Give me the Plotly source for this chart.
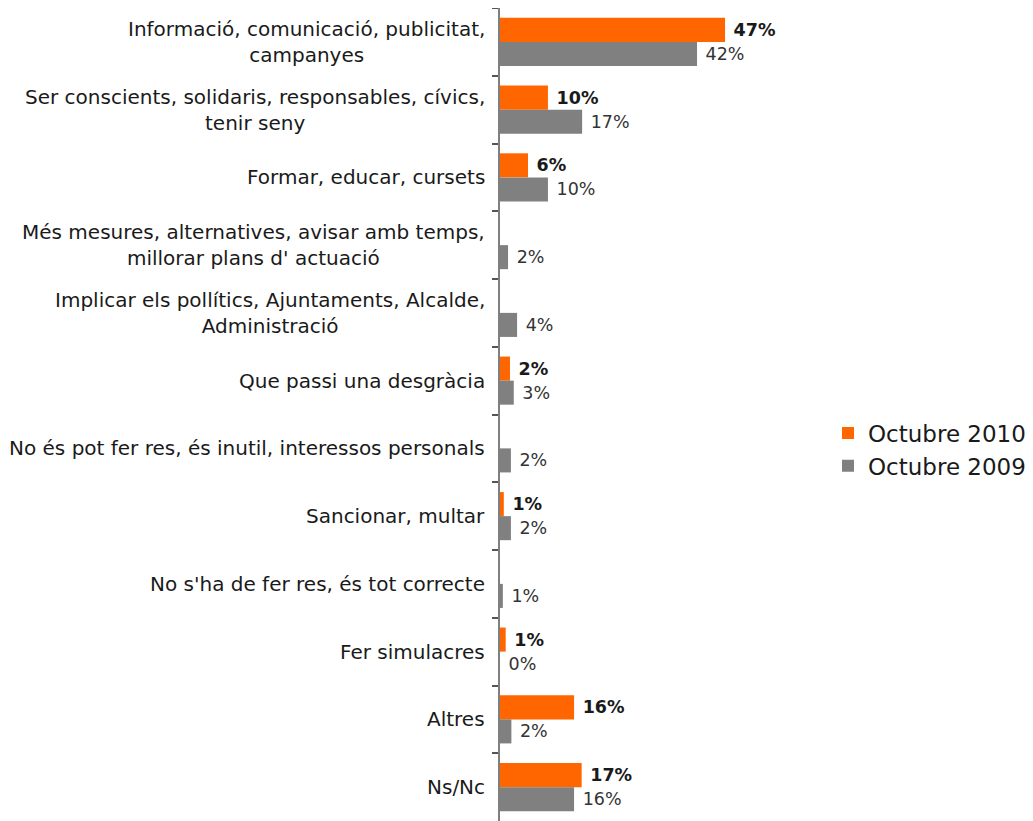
import plotly.graph_objects as go

categories = [
    "Informació, comunicació, publicitat,<br>campanyes",
    "Ser conscients, solidaris, responsables, cívics,<br>tenir seny",
    "Formar, educar, cursets",
    "Més mesures, alternatives, avisar amb temps,<br>millorar plans d' actuació",
    "Implicar els pollítics, Ajuntaments, Alcalde,<br>Administració",
    "Que passi una desgràcia",
    "No és pot fer res, és inutil, interessos personals",
    "Sancionar, multar",
    "No s'ha de fer res, és tot correcte",
    "Fer simulacres",
    "Altres",
    "Ns/Nc",
]
oct2010 = [47.4, 10.1, 5.9, None, None, 2.1, None, 0.8, None, 1.2, 15.6, 17.2]
oct2009 = [41.5, 17.3, 10.1, 1.7, 3.6, 2.9, 2.3, 2.3, 0.6, 0.0, 2.4, 15.6]
series_names = ["Octubre 2010", "Octubre 2009"]

FONT = "DejaVu Sans"

fig = go.Figure()
fig.add_trace(go.Bar(
    y=list(range(len(categories))), x=oct2010, orientation="h", name=series_names[0],
    legendgroup="a",
    marker=dict(color="#FF6600", line=dict(width=0)),
    texttemplate=" <b>%{x:.0f}%</b>", textposition="outside", cliponaxis=False,
    constraintext="none",
    textfont=dict(family=FONT, size=17.5, color="#1a1a1a"),
))
fig.add_trace(go.Bar(
    y=list(range(len(categories))), x=oct2009, orientation="h", name=series_names[1],
    legendgroup="b",
    marker=dict(color="#808080", line=dict(width=0)),
    texttemplate=" %{x:.0f}%", textposition="outside", cliponaxis=False,
    constraintext="none",
    textfont=dict(family=FONT, size=17.5, color="#333333"),
))

annotations = []
for i, c in enumerate(categories):
    annotations.append(dict(
        x=0, xref="paper", y=i, yref="y", text=c, showarrow=False,
        xanchor="right", yanchor="middle", align="center", xshift=-13,
        font=dict(family=FONT, size=20, color="#1a1a1a"),
    ))

fig.update_layout(
    width=1025, height=813,
    margin=dict(l=492, r=213, t=0, b=0),
    paper_bgcolor="white", plot_bgcolor="white",
    barmode="group", bargap=0.29, bargroupgap=0,
    showlegend=True,
    legend=dict(x=1.025, y=0.457, xanchor="left", yanchor="middle",
                font=dict(family=FONT, size=23, color="#1a1a1a"),
                traceorder="normal", itemwidth=30, tracegroupgap=9),
    annotations=annotations,
    xaxis=dict(range=[0, 67.4], visible=False, showgrid=False, zeroline=False),
    yaxis=dict(type="category", autorange="reversed", showgrid=False, zeroline=False,
               showline=True, linecolor="#7f7f7f", linewidth=2,
               ticks="outside", ticklen=6, tickcolor="#555555", tickwidth=1.5,
               tickson="boundaries", showticklabels=False),
    font=dict(family=FONT),
)

fig.write_html("out.html")
